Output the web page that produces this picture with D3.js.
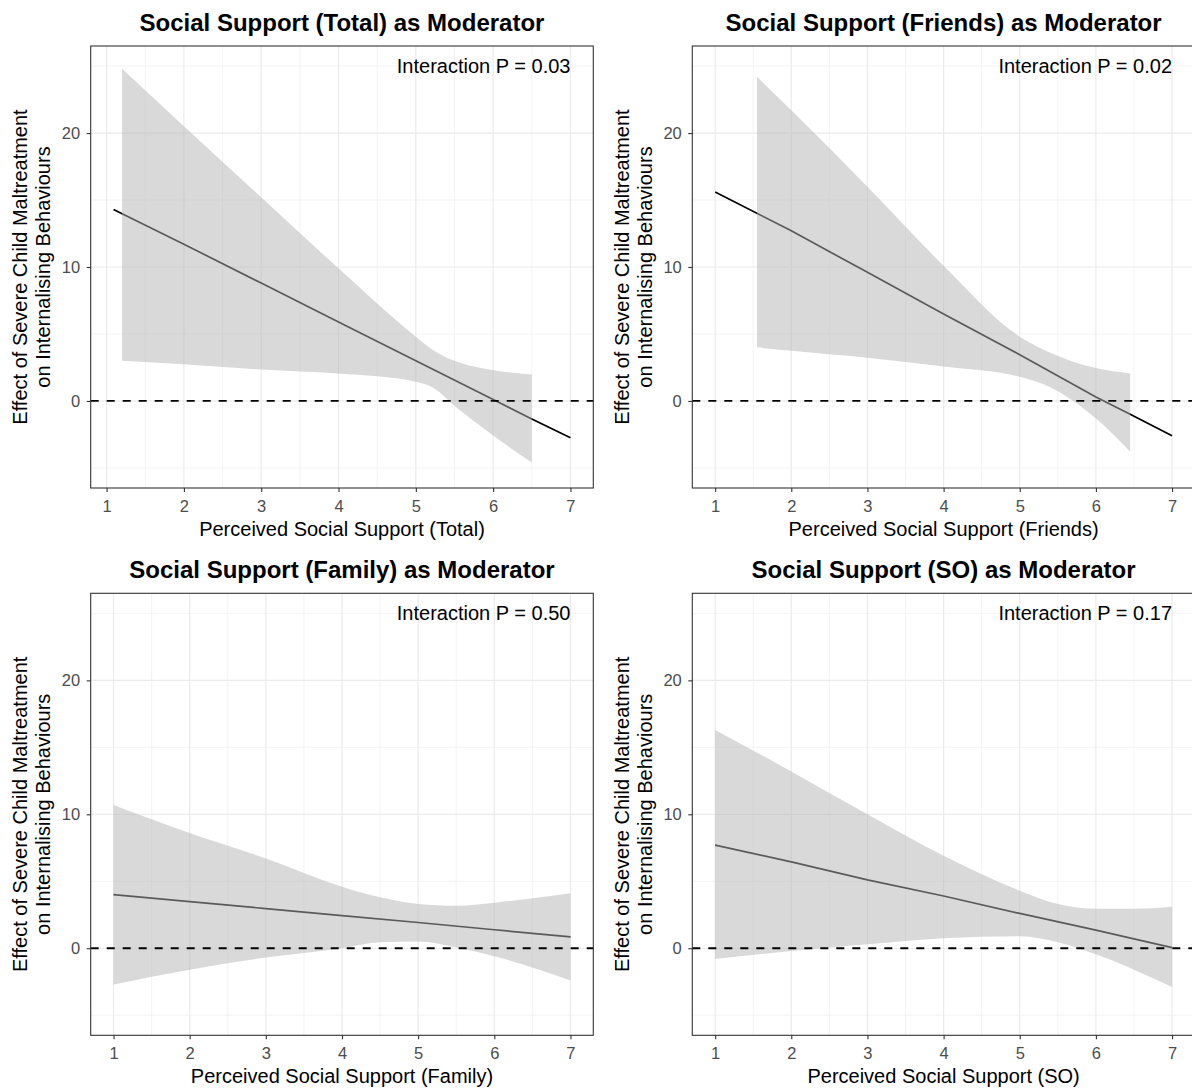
<!DOCTYPE html>
<html lang="en">
    <head>
        <meta charset="utf-8">
        <title>Social Support as Moderator</title>
        <script src="https://d3js.org/d3.v7.min.js"></script>
        <style>
            body { margin: 0; background: #fff; }
            svg text { font-family: "Liberation Sans", Arial, sans-serif; }
        </style>
    </head>
    <body>
    <div id="mainDiv"></div>

        <script type="text/javascript">
            // values
            const titles = ['Social Support (Total) as Moderator', 'Social Support (Friends) as Moderator',
                            'Social Support (Family) as Moderator', 'Social Support (SO) as Moderator']
            const xLabels = ['Perceived Social Support (Total)', 'Perceived Social Support (Friends)',
                             'Perceived Social Support (Family)', 'Perceived Social Support (SO)']
            const pLabels = ['Interaction P = 0.03', 'Interaction P = 0.02', 'Interaction P = 0.50', 'Interaction P = 0.17']
            const yTitle = ['Effect of Severe Child Maltreatment', 'on Internalising Behaviours']

            const xTicks = [1, 2, 3, 4, 5, 6, 7]
            const xMinor = [1.5, 2.5, 3.5, 4.5, 5.5, 6.5]
            const yTicks = [0, 10, 20]
            const yMinor = [-5, 5, 15, 25]
            const yLimits = [-5, 25]

            // Total
            const totalLineX = [1.09, 2, 3, 4, 5, 6, 6.5, 7]
            const totalLineY = [14.3, 11.7, 8.8, 5.9, 3.0, 0.1, -1.35, -2.75]
            const totalBandX = [1.2, 2, 3, 4, 5, 5.25, 5.5, 6, 6.5]
            const totalBandHi = [24.8, 20.5, 15.2, 9.9, 4.8, 3.7, 3.0, 2.3, 1.97]
            const totalBandLo = [3.0, 2.74, 2.35, 2.04, 1.44, 0.9, -0.36, -2.58, -4.6]

            // Friends
            const friendsLineX = [1, 2, 3, 4, 5, 6, 6.45, 7]
            const friendsLineY = [15.6, 12.7, 9.6, 6.5, 3.45, 0.3, -1.0, -2.6]
            const friendsBandX = [1.55, 2, 3, 4, 5, 5.4, 6, 6.45]
            const friendsBandHi = [24.2, 21.7, 16.0, 10.1, 4.8, 3.6, 2.45, 2.05]
            const friendsBandLo = [4.0, 3.74, 3.23, 2.58, 1.8, 1.03, -1.3, -3.8]

            // Family
            const familyLineX = [1, 2, 3, 4, 5, 6, 7]
            const familyLineY = [4.0, 3.48, 2.96, 2.44, 1.92, 1.38, 0.85]
            const familyBandX = [1, 2, 3, 4, 4.5, 5, 5.5, 6, 7]
            const familyBandHi = [10.7, 8.6, 6.7, 4.6, 3.8, 3.3, 3.17, 3.4, 4.1]
            const familyBandLo = [-2.7, -1.6, -0.7, 0.0, 0.45, 0.5, 0.05, -0.6, -2.4]

            // SO
            const soLineX = [1, 2, 3, 4, 5, 6, 7]
            const soLineY = [7.7, 6.45, 5.1, 3.9, 2.6, 1.35, 0.05]
            const soBandX = [1, 2, 3, 4, 5, 5.5, 6, 6.5, 7]
            const soBandHi = [16.3, 13.2, 10.0, 6.9, 4.3, 3.3, 2.95, 2.95, 3.1]
            const soBandLo = [-0.8, -0.2, 0.3, 0.75, 0.9, 0.45, -0.45, -1.6, -2.9]

            const panels = [
                {lineX: totalLineX, lineY: totalLineY, bandX: totalBandX, hi: totalBandHi, lo: totalBandLo},
                {lineX: friendsLineX, lineY: friendsLineY, bandX: friendsBandX, hi: friendsBandHi, lo: friendsBandLo},
                {lineX: familyLineX, lineY: familyLineY, bandX: familyBandX, hi: familyBandHi, lo: familyBandLo},
                {lineX: soLineX, lineY: soLineY, bandX: soBandX, hi: soBandHi, lo: soBandLo}
            ]

            const width = 1192
            const height = 1090
            const cellW = 601.6
            const cellH = 547.3

            const margins = {
                top: 46,
                left: 90.7,
                right: 8.3,
                bottom: 59.3
            }

            const bounded = {
                width: cellW - margins.left - margins.right,
                height: cellH - margins.top - margins.bottom
            }

            const svg = d3.select('#mainDiv').append('svg')
                .attr('width', width)
                .attr('height', height)
                .style('display', 'block')

            svg.append('rect')
                .attr('width', width)
                .attr('height', height)
                .attr('fill', '#fff')

            // ggplot style expansion of 5% each side
            const expand = ([a, b]) => [a - (b - a) * 0.05, b + (b - a) * 0.05]

            const yScale = d3.scaleLinear()
                .domain(expand(yLimits))
                .range([bounded.height, 0])

            panels.forEach((p, i) => {
                const col = i % 2
                const row = Math.floor(i / 2)
                const group = svg.append('g')
                    .attr('transform', `translate(${col * cellW + margins.left}, ${row * cellH + margins.top})`)

                const xScale = d3.scaleLinear()
                    .domain(expand(d3.extent(p.lineX.concat(p.bandX))))
                    .range([0, bounded.width])

                const xMinorIn = xMinor.filter(v => v > xScale.domain()[0] && v < xScale.domain()[1])

                // grid
                group.selectAll('.yminor').data(yMinor).join('line')
                    .attr('x1', 0).attr('x2', bounded.width)
                    .attr('y1', d => yScale(d)).attr('y2', d => yScale(d))
                    .attr('stroke', '#EBEBEB').attr('stroke-width', 0.6)
                group.selectAll('.xminor').data(xMinorIn).join('line')
                    .attr('y1', 0).attr('y2', bounded.height)
                    .attr('x1', d => xScale(d)).attr('x2', d => xScale(d))
                    .attr('stroke', '#EBEBEB').attr('stroke-width', 0.6)
                group.selectAll('.ymajor').data(yTicks).join('line')
                    .attr('x1', 0).attr('x2', bounded.width)
                    .attr('y1', d => yScale(d)).attr('y2', d => yScale(d))
                    .attr('stroke', '#EBEBEB').attr('stroke-width', 1.2)
                group.selectAll('.xmajor').data(xTicks).join('line')
                    .attr('y1', 0).attr('y2', bounded.height)
                    .attr('x1', d => xScale(d)).attr('x2', d => xScale(d))
                    .attr('stroke', '#EBEBEB').attr('stroke-width', 1.2)

                // effect line, drawn under the ribbon
                const lineData = p.lineX.map((x, k) => [x, p.lineY[k]])
                group.append('path')
                    .datum(lineData)
                    .attr('fill', 'none')
                    .attr('stroke', '#000')
                    .attr('stroke-width', 1.7)
                    .attr('d', d3.line().x(d => xScale(d[0])).y(d => yScale(d[1])))

                const bandData = p.bandX.map((x, k) => ({x: x, hi: p.hi[k], lo: p.lo[k]}))
                group.append('path')
                    .datum(bandData)
                    .attr('fill', '#B3B3B3')
                    .attr('fill-opacity', 0.5)
                    .attr('d', d3.area()
                        .curve(d3.curveMonotoneX)
                        .x(d => xScale(d.x))
                        .y0(d => yScale(d.lo))
                        .y1(d => yScale(d.hi)))

                // zero line
                group.append('line')
                    .attr('x1', 0).attr('x2', bounded.width)
                    .attr('y1', yScale(0)).attr('y2', yScale(0))
                    .attr('stroke', '#000')
                    .attr('stroke-width', 1.8)
                    .attr('stroke-dasharray', '8,8')

                // annotation
                group.append('text')
                    .attr('x', xScale(7))
                    .attr('y', yScale(25) + 7)
                    .attr('text-anchor', 'end')
                    .attr('font-size', 20)
                    .attr('fill', '#000')
                    .text(pLabels[i])

                // border
                group.append('rect')
                    .attr('width', bounded.width)
                    .attr('height', bounded.height)
                    .attr('fill', 'none')
                    .attr('stroke', '#333')
                    .attr('stroke-width', 1.1)

                // axes
                const xAxis = group.append('g')
                    .attr('transform', `translate(0, ${bounded.height})`)
                    .call(d3.axisBottom(xScale).tickValues(xTicks).tickFormat(d3.format('d')).tickSize(4).tickPadding(8))
                const yAxis = group.append('g')
                    .call(d3.axisLeft(yScale).tickValues(yTicks).tickSize(4).tickPadding(6.5))
                ;[xAxis, yAxis].forEach(a => {
                    a.select('.domain').remove()
                    a.selectAll('line').attr('stroke', '#333').attr('stroke-width', 1.1)
                    a.selectAll('text').attr('fill', '#4D4D4D').attr('font-size', 16.5)
                        .style('font-family', '"Liberation Sans", Arial, sans-serif')
                })

                // titles
                group.append('text')
                    .attr('x', bounded.width / 2)
                    .attr('y', -15)
                    .attr('text-anchor', 'middle')
                    .attr('font-size', 24)
                    .attr('font-weight', 'bold')
                    .text(titles[i])

                group.append('text')
                    .attr('x', bounded.width / 2)
                    .attr('y', bounded.height + 48)
                    .attr('text-anchor', 'middle')
                    .attr('font-size', 20)
                    .text(xLabels[i])

                const yt = group.append('text')
                    .attr('transform', `translate(0, ${bounded.height / 2}) rotate(-90)`)
                    .attr('text-anchor', 'middle')
                    .attr('font-size', 20)
                yt.append('tspan').attr('x', 0).attr('y', -63.4).text(yTitle[0])
                yt.append('tspan').attr('x', 0).attr('y', -40.7).text(yTitle[1])
            })
        </script>
    </body>
</html>
